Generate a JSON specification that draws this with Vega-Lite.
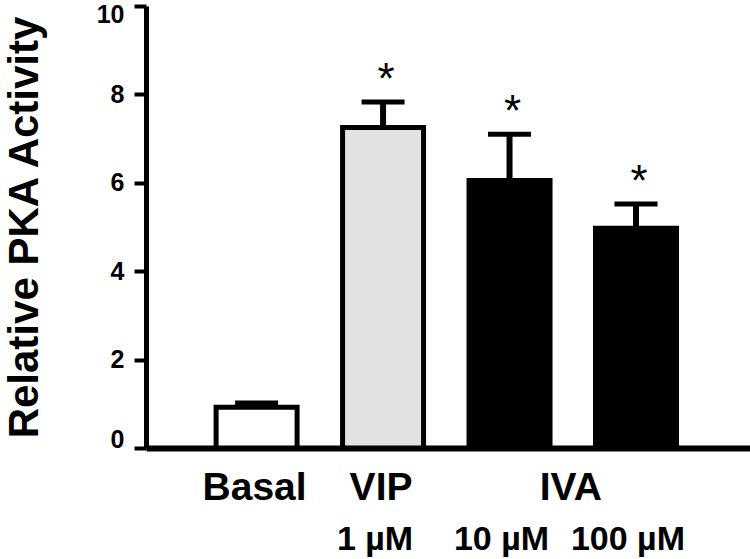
{
  "$schema": "https://vega.github.io/schema/vega-lite/v6.json",
  "width": 604,
  "height": 442,
  "autosize": "none",
  "padding": {"left": 146, "top": 6, "right": 0, "bottom": 111},
  "background": "white",
  "config": {"view": {"stroke": null}, "font": "Liberation Sans"},
  "datasets": {
    "bars": [
      {"group": "Basal", "treatment": "Basal", "pos": 1, "value": 0.92, "upper": 1.02, "sig": false},
      {"group": "VIP 1 µM", "treatment": "VIP", "pos": 2, "value": 7.25, "upper": 7.83, "sig": true},
      {"group": "IVA 10 µM", "treatment": "IVA", "pos": 3, "value": 6.05, "upper": 7.1, "sig": true},
      {"group": "IVA 100 µM", "treatment": "IVA", "pos": 4, "value": 4.97, "upper": 5.52, "sig": true}
    ],
    "labels": [
      {"text": "Basal", "pos": 1, "row": 1},
      {"text": "VIP", "pos": 2, "row": 1},
      {"text": "IVA", "pos": 3.5, "row": 1},
      {"text": "1 µM", "pos": 2, "row": 2},
      {"text": "10 µM", "pos": 3, "row": 2},
      {"text": "100 µM", "pos": 4, "row": 2}
    ]
  },
  "data": {"name": "bars"},
  "encoding": {
    "x": {
      "field": "pos",
      "type": "quantitative",
      "scale": {"domain": [0.165, 4.862], "nice": false, "zero": false},
      "axis": {"title": null, "labels": false, "ticks": false, "grid": false, "domainWidth": 6, "domainColor": "black"}
    }
  },
  "layer": [
    {
      "mark": {"type": "bar", "size": 81, "stroke": "black", "strokeWidth": 5},
      "encoding": {
        "y": {
          "field": "value",
          "type": "quantitative",
          "scale": {"domain": [0, 10], "nice": false},
          "axis": {
            "values": [0, 2, 4, 6, 8, 10],
            "title": "Relative PKA Activity",
            "grid": false,
            "domainWidth": 5,
            "domainColor": "black",
            "tickSize": 12,
            "tickWidth": 4,
            "tickColor": "black",
            "labelFontSize": 25,
            "labelFontWeight": "bold",
            "labelColor": "black",
            "labelPadding": 10,
            "labelFlush": true,
            "labelFlushOffset": 4,
            "titleFontSize": 42,
            "titleFontWeight": "bold",
            "titleColor": "black",
            "titlePadding": 50
          }
        },
        "color": {
          "field": "treatment",
          "type": "nominal",
          "scale": {"domain": ["Basal", "VIP", "IVA"], "range": ["white", "#e2e2e2", "black"]},
          "legend": null
        }
      }
    },
    {
      "mark": {"type": "rule", "strokeWidth": 6, "color": "black"},
      "encoding": {
        "y": {"field": "value", "type": "quantitative"},
        "y2": {"field": "upper"}
      }
    },
    {
      "mark": {"type": "tick", "orient": "horizontal", "size": 43, "thickness": 5, "color": "black", "opacity": 1},
      "encoding": {
        "y": {"field": "upper", "type": "quantitative"}
      }
    },
    {
      "transform": [{"filter": "datum.sig"}],
      "mark": {"type": "text", "text": "*", "fontSize": 44, "baseline": "alphabetic", "dy": -8, "dx": 3, "color": "black"},
      "encoding": {
        "y": {"field": "upper", "type": "quantitative"}
      }
    },
    {
      "data": {"name": "labels"},
      "transform": [{"filter": "datum.row == 1"}],
      "mark": {"type": "text", "fontSize": 39, "fontWeight": "bold", "baseline": "alphabetic", "dy": 52, "dx": -2, "color": "black"},
      "encoding": {
        "y": {"datum": 0, "type": "quantitative"},
        "text": {"field": "text"}
      }
    },
    {
      "data": {"name": "labels"},
      "transform": [{"filter": "datum.row == 2"}],
      "mark": {"type": "text", "fontSize": 34, "fontWeight": "bold", "baseline": "alphabetic", "dy": 102, "dx": -8, "color": "black"},
      "encoding": {
        "y": {"datum": 0, "type": "quantitative"},
        "text": {"field": "text"}
      }
    }
  ]
}
